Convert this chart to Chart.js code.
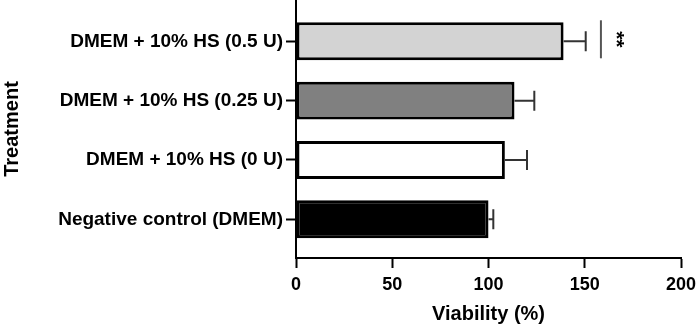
<!DOCTYPE html>
<html>
<head>
<meta charset="utf-8">
<script src="https://cdn.jsdelivr.net/npm/chart.js@4"></script>
<style>
  html, body { margin: 0; padding: 0; background: #fff; }
  #wrap { width: 699px; height: 331px; position: relative; }
</style>
</head>
<body>
<div id="wrap"><canvas id="c"></canvas></div>
<script>
// Categories, top to bottom
const categories = [
  'DMEM + 10% HS (0.5 U)',
  'DMEM + 10% HS (0.25 U)',
  'DMEM + 10% HS (0 U)',
  'Negative control (DMEM)'
];
const viability = [139, 113.5, 108.5, 100];
const errorSD = [11.5, 10.3, 11.5, 2.5];
const barColors = ['#d3d3d3', '#808080', '#ffffff', '#000000'];
const xTicks = [0, 50, 100, 150, 200];
const significance = { row: 0, x: 158.4, label: '**' };

const FONT = "'Liberation Sans', Arial, Helvetica, sans-serif";

const errorBarPlugin = {
  id: 'errorBars',
  afterDatasetsDraw(chart) {
    const ctx = chart.ctx;
    const xs = chart.scales.x, ys = chart.scales.y;
    ctx.save();
    ctx.strokeStyle = '#333';
    ctx.lineWidth = 2;
    viability.forEach((v, i) => {
      const y = ys.getPixelForValue(i);
      const x0 = xs.getPixelForValue(v);
      const x1 = xs.getPixelForValue(v + errorSD[i]);
      ctx.beginPath();
      ctx.moveTo(x0, y); ctx.lineTo(x1, y);
      ctx.moveTo(x1, y - 10); ctx.lineTo(x1, y + 10);
      ctx.stroke();
    });
    // significance marker
    const sx = xs.getPixelForValue(significance.x);
    const yc = ys.getPixelForValue(significance.row);
    ctx.strokeStyle = '#555';
    ctx.beginPath();
    ctx.moveTo(sx, yc - 21); ctx.lineTo(sx, yc + 17);
    ctx.stroke();
    ctx.translate(sx + 15, yc - 2);
    ctx.rotate(Math.PI / 2);
    ctx.fillStyle = '#000';
    ctx.font = 'bold 21px ' + FONT;
    ctx.textAlign = 'center';
    ctx.textBaseline = 'middle';
    ctx.fillText(significance.label, 0, 0);
    ctx.restore();
  }
};

new Chart(document.getElementById('c'), {
  type: 'bar',
  data: {
    datasets: [{
      data: viability.map((v, i) => ({ x: v, y: i })),
      backgroundColor: barColors,
      borderColor: '#000',
      borderWidth: 3,
      borderSkipped: false,
      barPercentage: 0.8,
      categoryPercentage: 0.8
    }]
  },
  options: {
    indexAxis: 'y',
    responsive: true,
    maintainAspectRatio: false,
    animation: false,
    layout: { padding: { top: 0, right: 18, left: 0, bottom: 0 } },
    plugins: { legend: { display: false }, tooltip: { enabled: false } },
    scales: {
      x: {
        type: 'linear',
        min: 0, max: 200,
        offset: false,
        afterBuildTicks: axis => { axis.ticks = xTicks.map(v => ({ value: v })); },
        afterFit: s => { s.height = 73; s.paddingLeft = 0; s.paddingRight = 0; },
        grid: { display: true, offset: false, drawOnChartArea: false, drawTicks: true, tickLength: 10, tickWidth: 2, tickColor: '#000' },
        border: { display: true, color: '#000', width: 2 },
        ticks: { color: '#000', font: { family: FONT, size: 18, weight: 'bold' }, padding: 6, maxRotation: 0 },
        title: { display: true, text: 'Viability (%)', color: '#000', font: { family: FONT, size: 20, weight: 'bold' }, padding: { top: 0, bottom: 5 } }
      },
      y: {
        type: 'linear',
        reverse: true,
        offset: false,
        min: -0.696, max: 3.652,
        afterBuildTicks: axis => { axis.ticks = categories.map((_, i) => ({ value: i })); },
        afterFit: s => { s.width = 296; s.paddingTop = 0; s.paddingBottom = 0; },
        grid: { display: true, offset: false, drawOnChartArea: false, drawTicks: true, tickLength: 10, tickWidth: 2, tickColor: '#000' },
        border: { display: true, color: '#000', width: 2 },
        ticks: { color: '#000', font: { family: FONT, size: 19, weight: 'bold' }, padding: 3,
          callback: v => categories[v] },
        title: { display: true, text: 'Treatment', color: '#000', font: { family: FONT, size: 20, weight: 'bold' }, padding: 0 }
      }
    }
  },
  plugins: [errorBarPlugin]
});
</script>
</body>
</html>
